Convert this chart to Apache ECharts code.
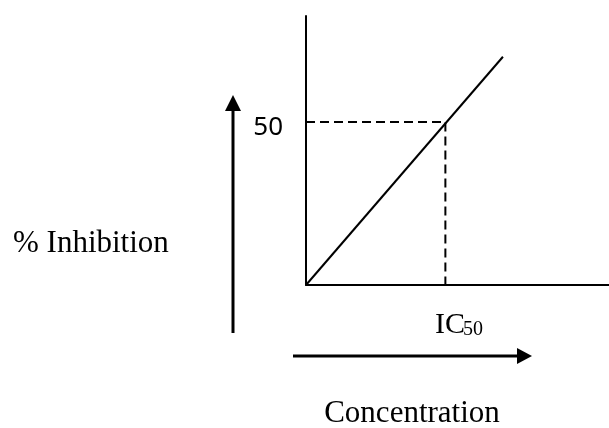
<!DOCTYPE html>
<html>
<head>
<meta charset="utf-8">
<script src="https://cdn.jsdelivr.net/npm/echarts@6/dist/echarts.min.js"></script>
<style>
  html, body { margin: 0; padding: 0; background: #fff; }
  #main { width: 609px; height: 428px; }
</style>
</head>
<body>
<div id="main"></div>
<script>
// straight response line (concentration vs % inhibition)
var concentration = [0, 65];
var inhibition = [0, 70];
// IC50 guide point
var ic50 = 46;
var halfInhibition = 50;
var yTickLabels = [50];

var chart = echarts.init(document.getElementById('main'), null, { renderer: 'canvas' });

var lineData = concentration.map(function (c, i) { return [c, inhibition[i]]; });
var guideData = [[0, halfInhibition], [ic50, halfInhibition], [ic50, 0]];

var serif = '"Liberation Serif", "Times New Roman", serif';

var option = {
  animation: false,
  backgroundColor: '#fff',
  grid: { left: 306, top: 16, right: 0, bottom: 143 },
  xAxis: {
    type: 'value',
    min: 0,
    max: 100,
    axisLine: { lineStyle: { color: '#000', width: 2 } },
    axisTick: { show: false },
    axisLabel: { show: false },
    splitLine: { show: false }
  },
  yAxis: {
    type: 'value',
    min: 0,
    max: 82.5,
    interval: 50,
    axisLine: { show: true, lineStyle: { color: '#000', width: 2 } },
    axisTick: { show: false },
    splitLine: { show: false },
    axisLabel: {
      margin: 23,
      showMaxLabel: false,
      formatter: function (v) {
        return yTickLabels.indexOf(v) >= 0 ? '{v|' + v + '}' : '';
      },
      rich: {
        v: {
          color: '#000',
          fontFamily: '"Noto Sans", sans-serif',
          fontSize: 26,
          padding: [11, 0, 0, 0]
        }
      }
    }
  },
  series: [{
    type: 'line',
    data: lineData,
    symbol: 'none',
    lineStyle: { color: '#000', width: 2 }
  }, {
    type: 'line',
    data: guideData,
    symbol: 'none',
    lineStyle: { color: '#000', width: 2, type: [9, 5] }
  }],
  graphic: [
    // vertical arrow
    { type: 'line', shape: { x1: 233, y1: 333, x2: 233, y2: 108 }, style: { stroke: '#000', lineWidth: 3 } },
    { type: 'polygon', shape: { points: [[225, 111], [241, 111], [233, 95]] }, style: { fill: '#000' } },
    // horizontal arrow
    { type: 'line', shape: { x1: 293, y1: 356, x2: 520, y2: 356 }, style: { stroke: '#000', lineWidth: 3 } },
    { type: 'polygon', shape: { points: [[517, 348], [517, 364], [532, 356]] }, style: { fill: '#000' } },
    // labels
    { type: 'text', x: 13, y: 244, style: { text: '% Inhibition', font: '31px ' + serif, fill: '#000', align: 'left', verticalAlign: 'middle' } },
    { type: 'text', x: 435, y: 325, style: { text: 'IC', font: '30px ' + serif, fill: '#000', align: 'left', verticalAlign: 'middle' } },
    { type: 'text', x: 463, y: 330, style: { text: '50', font: '20px ' + serif, fill: '#000', align: 'left', verticalAlign: 'middle' } },
    { type: 'text', x: 412, y: 414, style: { text: 'Concentration', font: '31px ' + serif, fill: '#000', align: 'center', verticalAlign: 'middle' } }
  ]
};

chart.setOption(option);
</script>
</body>
</html>
